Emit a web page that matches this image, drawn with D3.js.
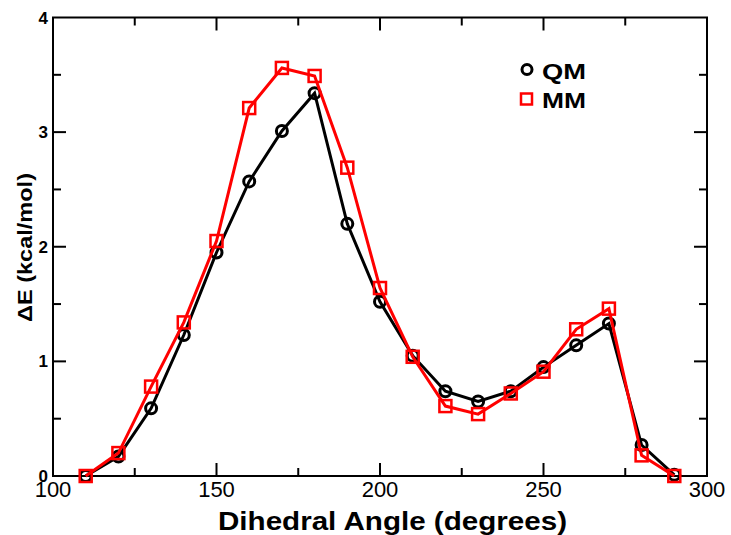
<!DOCTYPE html>
<html>
<head>
<meta charset="utf-8">
<script src="https://cdn.jsdelivr.net/npm/d3@7"></script>
<style>
  body { margin: 0; background: #fff; }
  text { font-family: "Liberation Sans", Arial, sans-serif; }
</style>
</head>
<body>
<svg width="731" height="535"></svg>
<script>
// dihedral scan, QM vs MM
var angles = [110, 120, 130, 140, 150, 160, 170, 180, 190, 200, 210, 220, 230, 240, 250, 260, 270, 280, 290];
var qm = [0, 0.17, 0.59, 1.23, 1.95, 2.57, 3.01, 3.34, 2.20, 1.52, 1.05, 0.74, 0.65, 0.74, 0.95, 1.14, 1.33, 0.27, 0.01];
var mm = [0, 0.20, 0.78, 1.34, 2.05, 3.21, 3.56, 3.49, 2.69, 1.64, 1.04, 0.61, 0.54, 0.72, 0.91, 1.28, 1.46, 0.18, 0];
var xTicks = [100, 150, 200, 250, 300];
var yTicks = [0, 1, 2, 3, 4];

var svg = d3.select("svg");
var pl = 53, pr = 707, pt = 17.5, pb = 476;

var x = d3.scaleLinear().domain([100, 300]).range([pl, pr]);
var y = d3.scaleLinear().domain([0, 4]).range([pb, pt]);

// frame
svg.append("rect")
    .attr("x", pl).attr("y", pt)
    .attr("width", pr - pl).attr("height", pb - pt)
    .attr("fill", "none").attr("stroke", "#000").attr("stroke-width", 2);

// inward ticks on all four sides
var xMinor = d3.range(125, 300, 50);
var yMinor = d3.range(0.5, 4, 1);
var g = svg.append("g").attr("stroke", "#000").attr("stroke-width", 2);
function xt(d, len) {
  g.append("line").attr("x1", x(d)).attr("x2", x(d)).attr("y1", pb).attr("y2", pb - len);
  g.append("line").attr("x1", x(d)).attr("x2", x(d)).attr("y1", pt).attr("y2", pt + len);
}
function yt(d, len) {
  g.append("line").attr("y1", y(d)).attr("y2", y(d)).attr("x1", pl).attr("x2", pl + len);
  g.append("line").attr("y1", y(d)).attr("y2", y(d)).attr("x1", pr).attr("x2", pr - len);
}
xTicks.slice(1, -1).forEach(function(d) { xt(d, 13); });
xMinor.forEach(function(d) { xt(d, 8); });
yTicks.slice(1, -1).forEach(function(d) { yt(d, 13); });
yMinor.forEach(function(d) { yt(d, 8); });

// tick labels
svg.selectAll(".xl").data(xTicks).enter().append("text")
    .attr("x", function(d) { return x(d); })
    .attr("y", pb + 21)
    .attr("text-anchor", "middle")
    .attr("font-size", 22)
    .text(function(d) { return d; });

svg.selectAll(".yl").data(yTicks).enter().append("text")
    .attr("x", pl - 5)
    .attr("y", function(d) { return y(d) + 6; })
    .attr("text-anchor", "end")
    .attr("font-size", 17)
    .attr("font-weight", "bold")
    .text(function(d) { return d; });

// axis titles (the original font runs wider than Liberation, so stretch)
svg.append("text")
    .attr("x", 218)
    .attr("y", 530)
    .attr("font-size", 25)
    .attr("font-weight", "bold")
    .attr("textLength", 349)
    .attr("lengthAdjust", "spacingAndGlyphs")
    .text("Dihedral Angle (degrees)");

svg.append("text")
    .attr("transform", "translate(32,322) rotate(-90)")
    .attr("font-size", 21)
    .attr("font-weight", "bold")
    .attr("textLength", 149)
    .attr("lengthAdjust", "spacingAndGlyphs")
    .text("ΔE (kcal/mol)");

var line = d3.line()
    .x(function(d, i) { return x(angles[i]); })
    .y(function(d) { return y(d); });

// QM
svg.append("path").datum(qm)
    .attr("d", line).attr("fill", "none")
    .attr("stroke", "#000").attr("stroke-width", 3);
svg.selectAll(".qm").data(qm).enter().append("circle")
    .attr("cx", function(d, i) { return x(angles[i]); })
    .attr("cy", function(d) { return y(d); })
    .attr("r", 5.5)
    .attr("fill", "none").attr("stroke", "#000").attr("stroke-width", 3);

// MM
svg.append("path").datum(mm)
    .attr("d", line).attr("fill", "none")
    .attr("stroke", "#f00").attr("stroke-width", 3);
svg.selectAll(".mm").data(mm).enter().append("rect")
    .attr("x", function(d, i) { return x(angles[i]) - 6; })
    .attr("y", function(d) { return y(d) - 6; })
    .attr("width", 12).attr("height", 12)
    .attr("fill", "none").attr("stroke", "#f00").attr("stroke-width", 2.5);

// legend
var series = ["QM", "MM"];
var leg = svg.append("g");
leg.append("circle").attr("cx", 527).attr("cy", 69.5).attr("r", 5)
    .attr("fill", "none").attr("stroke", "#000").attr("stroke-width", 3);
leg.append("rect").attr("x", 521).attr("y", 93.5).attr("width", 11).attr("height", 11)
    .attr("fill", "none").attr("stroke", "#f00").attr("stroke-width", 2.5);
leg.selectAll("text").data(series).enter().append("text")
    .attr("x", 542)
    .attr("y", function(d, i) { return 79 + i * 29; })
    .attr("font-size", 22)
    .attr("font-weight", "bold")
    .attr("textLength", 44)
    .attr("lengthAdjust", "spacingAndGlyphs")
    .text(function(d) { return d; });
</script>
</body>
</html>
